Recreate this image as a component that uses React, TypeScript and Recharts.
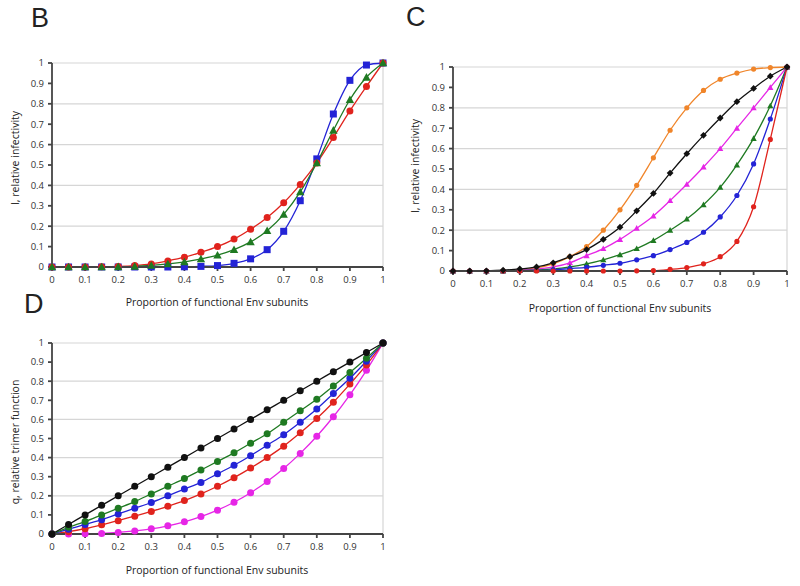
import React from 'react';
import { LineChart, Line, XAxis, YAxis, CartesianGrid, ReferenceLine } from 'recharts';

const X = [0, 0.05, 0.1, 0.15, 0.2, 0.25, 0.3, 0.35, 0.4, 0.45, 0.5, 0.55, 0.6, 0.65, 0.7, 0.75, 0.8, 0.85, 0.9, 0.95, 1];
const TICKS = [0, 0.1, 0.2, 0.3, 0.4, 0.5, 0.6, 0.7, 0.8, 0.9, 1];

// panel B
const bRed = [0, 0, 0, 0.001, 0.003, 0.007, 0.015, 0.03, 0.048, 0.072, 0.1, 0.137, 0.185, 0.243, 0.315, 0.405, 0.51, 0.635, 0.765, 0.885, 1];
const bGreen = [0, 0, 0, 0, 0.001, 0.003, 0.008, 0.015, 0.025, 0.04, 0.058, 0.085, 0.123, 0.178, 0.258, 0.368, 0.51, 0.67, 0.82, 0.93, 1];
const bBlue = [0, 0, 0, 0, 0, 0, 0, 0, 0.001, 0.003, 0.007, 0.018, 0.04, 0.085, 0.175, 0.325, 0.53, 0.75, 0.915, 0.99, 1];

// panel C
const cOrange = [0, 0, 0, 0.001, 0.005, 0.015, 0.035, 0.07, 0.12, 0.2, 0.3, 0.42, 0.555, 0.69, 0.8, 0.885, 0.94, 0.97, 0.99, 0.997, 1];
const cBlack = [0, 0, 0.001, 0.004, 0.01, 0.02, 0.04, 0.07, 0.105, 0.155, 0.215, 0.295, 0.38, 0.48, 0.575, 0.665, 0.75, 0.83, 0.895, 0.955, 1];
const cMagenta = [0, 0, 0, 0.001, 0.004, 0.01, 0.02, 0.04, 0.075, 0.11, 0.155, 0.21, 0.27, 0.345, 0.425, 0.51, 0.6, 0.7, 0.8, 0.9, 1];
const cGreen = [0, 0, 0, 0, 0.002, 0.005, 0.01, 0.02, 0.035, 0.055, 0.08, 0.11, 0.15, 0.2, 0.255, 0.325, 0.41, 0.52, 0.65, 0.81, 1];
const cBlue = [0, 0, 0, 0, 0.001, 0.003, 0.006, 0.012, 0.018, 0.028, 0.038, 0.055, 0.075, 0.105, 0.14, 0.19, 0.265, 0.37, 0.525, 0.745, 1];
const cRed = [0, 0, 0, 0, 0, 0, 0, 0, 0, 0, 0, 0.001, 0.002, 0.008, 0.017, 0.035, 0.07, 0.145, 0.315, 0.645, 1];

// panel D
const dBlack = [0, 0.05, 0.1, 0.15, 0.2, 0.25, 0.3, 0.35, 0.4, 0.45, 0.5, 0.55, 0.6, 0.65, 0.7, 0.75, 0.8, 0.85, 0.9, 0.95, 1];
const dGreen = [0, 0.035, 0.065, 0.1, 0.135, 0.17, 0.21, 0.25, 0.29, 0.335, 0.38, 0.425, 0.475, 0.525, 0.585, 0.645, 0.705, 0.775, 0.845, 0.92, 1];
const dBlue = [0, 0.025, 0.05, 0.075, 0.105, 0.135, 0.165, 0.2, 0.235, 0.27, 0.315, 0.36, 0.41, 0.465, 0.52, 0.585, 0.655, 0.735, 0.815, 0.905, 1];
const dRed = [0, 0.012, 0.028, 0.048, 0.07, 0.093, 0.118, 0.145, 0.175, 0.21, 0.25, 0.295, 0.345, 0.4, 0.46, 0.53, 0.605, 0.69, 0.785, 0.885, 1];
const dMagenta = [0, 0, 0.001, 0.003, 0.008, 0.016, 0.027, 0.043, 0.064, 0.091, 0.125, 0.166, 0.216, 0.275, 0.343, 0.422, 0.512, 0.614, 0.729, 0.857, 1];

const RED = '#e0231d';
const GREEN = '#1f7a22';
const BLUE = '#2323d6';
const ORANGE = '#f0852a';
const MAGENTA = '#e626e6';
const BLACK = '#111111';

const FONT = '"Open Sans", "DejaVu Sans", sans-serif';
const X_TITLE = 'Proportion of functional Env subunits';

type Shape = 'circle' | 'square' | 'triangle' | 'diamond';
interface Series { key: string; values: number[]; color: string; shape: Shape }

const makeDot = (shape: Shape, color: string, r: number) => (props: any) => {
  const { cx, cy, index } = props;
  if (cx == null || cy == null) return <g key={index} />;
  if (shape === 'square') {
    return <rect key={index} x={cx - r} y={cy - r} width={r * 2} height={r * 2} fill={color} />;
  }
  if (shape === 'triangle') {
    const h = r * 1.2;
    return <polygon key={index} points={`${cx},${cy - h} ${cx - h},${cy + h * 0.8} ${cx + h},${cy + h * 0.8}`} fill={color} />;
  }
  if (shape === 'diamond') {
    const h = r * 1.3;
    return <polygon key={index} points={`${cx},${cy - h} ${cx + h},${cy} ${cx},${cy + h} ${cx - h},${cy}`} fill={color} />;
  }
  return <circle key={index} cx={cx} cy={cy} r={r} fill={color} />;
};

interface PanelProps {
  left: number; top: number; width: number; height: number;
  plotLeft: number; plotRight: number; plotTop: number; plotBottom: number;
  series: Series[]; r: number;
}

const Panel = ({ left, top, width, height, plotLeft, plotRight, plotTop, plotBottom, series, r }: PanelProps) => {
  const data = X.map((x, i) => {
    const row: Record<string, number> = { x };
    series.forEach(s => { row[s.key] = s.values[i]; });
    return row;
  });
  const yW = 40;
  const xH = 25;
  return (
    <div style={{ position: 'absolute', left, top }}>
      <LineChart
        width={width}
        height={height}
        data={data}
        margin={{ left: plotLeft - yW, right: width - plotRight, top: plotTop, bottom: height - plotBottom - xH }}
      >
        <CartesianGrid vertical={false} stroke="#d6d6d6" strokeWidth={1.2} />
        <ReferenceLine x={1} stroke="#d6d6d6" strokeWidth={1.2} />
        <XAxis
          dataKey="x"
          type="number"
          domain={[0, 1]}
          ticks={TICKS}
          height={xH}
          tickSize={4}
          tickMargin={5}
          stroke="#444"
          strokeWidth={1.8}
          tick={{ fontSize: 9.5, fill: '#333', fontFamily: FONT }}
        />
        <YAxis
          type="number"
          domain={[0, 1]}
          ticks={TICKS}
          width={yW}
          tickSize={4}
          tickMargin={4}
          stroke="#444"
          strokeWidth={1.8}
          tick={{ fontSize: 9.5, fill: '#333', fontFamily: FONT }}
        />
        {series.map(s => (
          <Line
            key={s.key}
            dataKey={s.key}
            type="monotone"
            stroke={s.color}
            strokeWidth={1.3}
            dot={makeDot(s.shape, s.color, r)}
            activeDot={false}
            isAnimationActive={false}
          />
        ))}
      </LineChart>
    </div>
  );
};

const text = (content: string, style: React.CSSProperties) => (
  <div style={{ position: 'absolute', fontFamily: FONT, color: '#222', whiteSpace: 'nowrap', lineHeight: 1, ...style }}>{content}</div>
);

const centered = (content: string, cx: number, cy: number, size: number, rotate = false) => (
  <div
    style={{
      position: 'absolute', left: cx, top: cy, fontFamily: FONT, fontSize: size, color: '#222',
      whiteSpace: 'nowrap', lineHeight: 1,
      transform: `translate(-50%, -50%)${rotate ? ' rotate(-90deg)' : ''}`,
    }}
  >
    {content}
  </div>
);

export default function App() {
  const seriesB: Series[] = [
    { key: 'blue', values: bBlue, color: BLUE, shape: 'square' },
    { key: 'red', values: bRed, color: RED, shape: 'circle' },
    { key: 'green', values: bGreen, color: GREEN, shape: 'triangle' },
  ];
  const seriesC: Series[] = [
    { key: 'orange', values: cOrange, color: ORANGE, shape: 'circle' },
    { key: 'magenta', values: cMagenta, color: MAGENTA, shape: 'triangle' },
    { key: 'green', values: cGreen, color: GREEN, shape: 'triangle' },
    { key: 'blue', values: cBlue, color: BLUE, shape: 'circle' },
    { key: 'red', values: cRed, color: RED, shape: 'circle' },
    { key: 'black', values: cBlack, color: BLACK, shape: 'diamond' },
  ];
  const seriesD: Series[] = [
    { key: 'magenta', values: dMagenta, color: MAGENTA, shape: 'circle' },
    { key: 'red', values: dRed, color: RED, shape: 'circle' },
    { key: 'blue', values: dBlue, color: BLUE, shape: 'circle' },
    { key: 'green', values: dGreen, color: GREEN, shape: 'circle' },
    { key: 'black', values: dBlack, color: BLACK, shape: 'circle' },
  ];

  return (
    <div style={{ position: 'absolute', left: 0, top: 0, width: 800, height: 586, background: '#fff', overflow: 'hidden' }}>
      <Panel left={0} top={0} width={400} height={300} plotLeft={52} plotRight={383} plotTop={63} plotBottom={267} series={seriesB} r={3.5} />
      <Panel left={400} top={0} width={400} height={320} plotLeft={53} plotRight={387} plotTop={67} plotBottom={271} series={seriesC} r={2.6} />
      <Panel left={0} top={290} width={400} height={296} plotLeft={52} plotRight={383} plotTop={53} plotBottom={244} series={seriesD} r={3.5} />

      {text('B', { left: 31, top: 5, fontSize: 27, fontFamily: '"Liberation Sans", Arial, sans-serif' })}
      {text('C', { left: 406, top: 4, fontSize: 27, fontFamily: '"Liberation Sans", Arial, sans-serif' })}
      {text('D', { left: 24, top: 291, fontSize: 27, fontFamily: '"Liberation Sans", Arial, sans-serif' })}

      {centered(X_TITLE, 217, 302, 10.5)}
      {centered(X_TITLE, 620, 308, 10.5)}
      {centered(X_TITLE, 217, 570, 10.5)}

      {centered('I, relative infectivity', 15, 158, 10.5, true)}
      {centered('I, relative infectivity', 415, 166, 10.5, true)}
      {centered('q, relative trimer function', 15, 442, 10.5, true)}
    </div>
  );
}
